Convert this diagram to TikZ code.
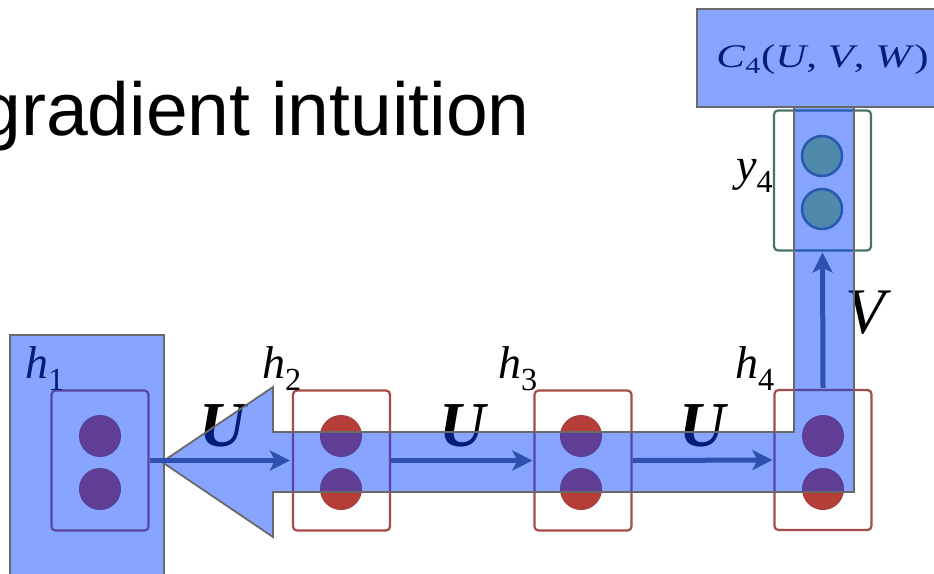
\documentclass[tikz,border=0pt]{standalone}
\usepackage{fontspec}
\setmainfont{Liberation Serif}
\newfontfamily\titlefont{Liberation Sans}
\usepackage{graphicx}
\usetikzlibrary{arrows.meta}
\definecolor{ovblue}{RGB}{0,64,255}
\definecolor{ovline}{RGB}{105,105,105}
\definecolor{redfill}{RGB}{183,62,56}
\definecolor{redline}{RGB}{165,60,60}
\definecolor{boxred}{RGB}{165,75,75}
\definecolor{boxgreen}{RGB}{70,115,105}
\definecolor{greenfill}{RGB}{150,205,100}
\definecolor{greenline}{RGB}{75,113,113}
\definecolor{arrblue}{RGB}{47,80,176}
\begin{document}
\begin{tikzpicture}[x=1pt,y=-1pt,
  hbox/.style={draw=boxred, line width=2.2pt, rounded corners=4pt, minimum width=97pt, minimum height=140pt, inner sep=0pt},
  ybox/.style={draw=boxgreen, line width=2.2pt, rounded corners=4pt, minimum width=97pt, minimum height=140pt, inner sep=0pt},
  rcirc/.style={circle, fill=redfill, draw=redline, line width=1pt, minimum size=41pt, inner sep=0pt},
  gcirc/.style={circle, fill=greenfill, draw=greenline, line width=2.5pt, minimum size=40pt, inner sep=0pt},
  lbl/.style={inner sep=0pt, font=\fontsize{46}{50}\selectfont},
  ulbl/.style={inner sep=0pt, font=\fontsize{64}{70}\selectfont\bfseries\itshape, anchor=base west},
  ovl/.style={fill=ovblue, fill opacity=0.47, draw=ovline, draw opacity=1, line width=1.8pt, line join=miter},
  arr/.style={draw=arrblue, line width=5pt, -{Stealth[length=20pt,width=20pt,inset=5pt]}}
]
\useasboundingbox (0,0) rectangle (934,573);
\clip (0,0) rectangle (934,573);

% title
\node[inner sep=0pt, anchor=base east, font=\titlefont\fontsize{75}{80}\selectfont] (title) at (530,135) {gradient intuition};

% boxes
\node[hbox] (b1) at (100,460.5) {};
\node[hbox] (b2) at (341.5,460.5) {};
\node[hbox] (b3) at (583,460.5) {};
\node[hbox] (b4) at (823,460) {};
\node[ybox] (b5) at (822.5,180.5) {};

% circles
\node[rcirc] (c1a) at (100,436) {};
\node[rcirc] (c1b) at (100,489) {};
\node[rcirc] (c2a) at (341,436) {};
\node[rcirc] (c2b) at (341,489) {};
\node[rcirc] (c3a) at (581,436) {};
\node[rcirc] (c3b) at (581,489) {};
\node[rcirc] (c4a) at (823,436) {};
\node[rcirc] (c4b) at (823,489) {};
\node[gcirc] (c5a) at (822,156) {};
\node[gcirc] (c5b) at (822,209) {};

% labels
\node[lbl, anchor=base west] (h1) at (25,378) {\textit{h}\textsubscript{1}};
\node[lbl, anchor=base west] (h2) at (262,378) {\textit{h}\textsubscript{2}};
\node[lbl, anchor=base west] (h3) at (498,378) {\textit{h}\textsubscript{3}};
\node[lbl, anchor=base west] (h4) at (735,378) {\textit{h}\textsubscript{4}};
\node[lbl, anchor=base west] (y4) at (736,180) {\textit{y}\textsubscript{4}};
\node[ulbl] (u1) at (199,446) {U};
\node[ulbl] (u2) at (439,446) {U};
\node[ulbl] (u3) at (679,446) {U};
\node[inner sep=0pt, anchor=base west, font=\fontsize{65}{70}\selectfont\itshape] (vl) at (845,333) {V};
\node[inner sep=0pt, anchor=base, font=\fontsize{33}{36}\selectfont] (cost) at (822.5,67)
  {\scalebox{1.3}[1]{\textit{C}\textsubscript{4}(\textit{U}, \textit{V}, \textit{W})}};

% translucent overlays
\path[ovl] (10,335) rectangle (164,595);
\path[ovl] (162,462) -- (273,387) -- (273,432) -- (794,432) -- (794,107) -- (854,107)
  -- (854,492) -- (273,492) -- (273,537) -- cycle;
\path[ovl] (697,9) rectangle (945,107);

% arrows
\draw[arr, shorten >=2pt] (b1.east) -- (b2.west);
\draw[arr, shorten >=1pt] (b2.east) -- (b3.west);
\draw[arr, shorten >=1pt] (b3.east) -- (b4.west);
\draw[arr, shorten <=1pt, shorten >=1pt] (b4.north) -- (b5.south);
\end{tikzpicture}
\end{document}
